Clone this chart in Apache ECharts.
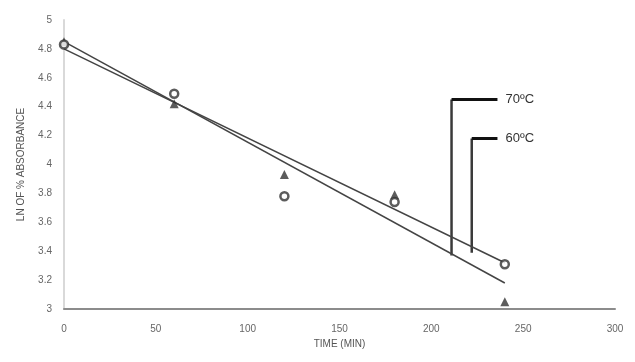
<!DOCTYPE html>
<html>
<head>
<meta charset="utf-8">
<script src="https://cdn.jsdelivr.net/npm/echarts@6/dist/echarts.min.js"></script>
<style>
  html, body { margin: 0; padding: 0; background: #fff; }
  #chart { width: 635px; height: 362px; }
</style>
</head>
<body>
<div id="chart"></div>
<script>
// Sampling times (min)
var times = [0, 60, 120, 180, 240];
// ln of % absorbance at each temperature
var ln70 = [4.85, 4.42, 3.93, 3.79, 3.05];   // triangles
var ln60 = [4.83, 4.49, 3.78, 3.74, 3.31];   // circles
// Straight trend lines (start and end points)
var trend70 = [[0, 4.85], [240, 3.18]];
var trend60 = [[0, 4.80], [240, 3.32]];
// Callout leaders: vertical stem from the trend line, then a short horizontal arm to the label
var stem70 = [[211, 3.37], [211, 4.45]];
var arm70 = [[211, 4.45], [236, 4.45]];
var stem60 = [[222, 3.39], [222, 4.18]];
var arm60 = [[222, 4.18], [236, 4.18]];
var calloutText = ['70ºC', '60ºC'];

function pairs(xs, ys) { return xs.map(function (x, i) { return [x, ys[i]]; }); }

var font = 'Liberation Sans Narrow, Liberation Sans, Arial, sans-serif';
var ink = '#333';

function stemSeries(path) {
  return { type: 'line', data: path, symbol: 'none', silent: true, z: 1,
    lineStyle: { color: '#3a3a3a', width: 2.5 } };
}
function armSeries(path, text) {
  return {
    type: 'line', data: path, symbol: 'none', silent: true, z: 1,
    lineStyle: { color: '#111', width: 3 },
    endLabel: { show: true, formatter: text, color: '#333', fontFamily: font, fontSize: 13, distance: 8 }
  };
}

var chart = echarts.init(document.getElementById('chart'));
chart.setOption({
  animation: false,
  grid: { left: 64, right: 20, top: 20, bottom: 53 },
  xAxis: {
    type: 'value', min: 0, max: 300, interval: 50,
    name: 'TIME (MIN)', nameLocation: 'middle', nameGap: 28,
    nameTextStyle: { color: '#555', fontFamily: font, fontSize: 10 },
    axisLine: { lineStyle: { color: '#8c8c8c', width: 2 } },
    axisTick: { show: false },
    axisLabel: { color: '#666', fontFamily: font, fontSize: 10, margin: 15 },
    splitLine: { show: false }
  },
  yAxis: {
    type: 'value', min: 3, max: 5, interval: 0.2,
    name: 'LN OF % ABSORBANCE', nameLocation: 'middle', nameGap: 38,
    nameTextStyle: { color: '#555', fontFamily: font, fontSize: 10 },
    axisLine: { show: true, lineStyle: { color: '#d9d9d9', width: 2 } },
    axisTick: { show: false },
    axisLabel: { color: '#666', fontFamily: font, fontSize: 10, margin: 12,
      formatter: function (v) { return String(Math.round(v * 10) / 10); } },
    splitLine: { show: false }
  },
  series: [
    { type: 'line', data: trend70, symbol: 'none', lineStyle: { color: '#444', width: 1.5 }, z: 2 },
    { type: 'line', data: trend60, symbol: 'none', lineStyle: { color: '#444', width: 1.5 }, z: 2 },
    { type: 'scatter', data: pairs(times, ln70), symbol: 'triangle', symbolSize: 9,
      itemStyle: { color: ink }, z: 3 },
    { type: 'scatter', data: pairs(times, ln60), symbol: 'circle', symbolSize: 8,
      itemStyle: { color: '#fff', borderColor: ink, borderWidth: 2.5 }, z: 3 },
    stemSeries(stem70),
    armSeries(arm70, calloutText[0]),
    stemSeries(stem60),
    armSeries(arm60, calloutText[1])
  ]
});
</script>
</body>
</html>
